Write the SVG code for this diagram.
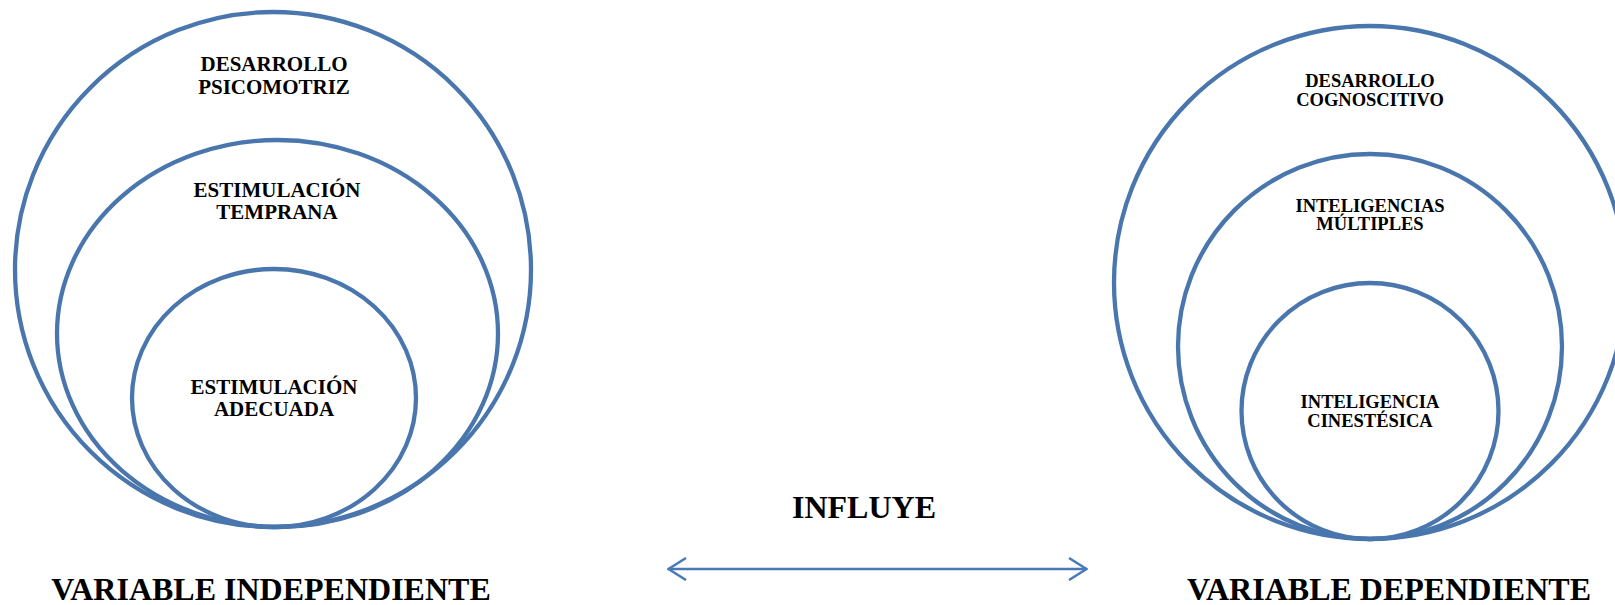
<svg xmlns="http://www.w3.org/2000/svg" width="1615" height="605" viewBox="0 0 1615 605">
<style>
.ring{fill:none;stroke:#4A76AE;stroke-width:4.3}
.t{font-family:"Liberation Serif","Times New Roman",serif;font-weight:bold;fill:#000;text-anchor:middle}
.l{font-size:21px}
.r{font-size:18.5px}
.big{font-size:32px}
.conn{fill:none;stroke:#4A7AB6;stroke-width:2.5}
</style>
<defs>
<marker id="chev" viewBox="0 0 20 24" refX="19" refY="12" markerWidth="20" markerHeight="24" markerUnits="userSpaceOnUse" orient="auto-start-reverse">
<path d="M1,1 L18.5,12 L1,23" fill="none" stroke="#4A7AB6" stroke-width="2.5"/>
</marker>
</defs>
<rect width="1615" height="605" fill="#fff"/>
<g id="desarrollo-psicomotriz">
<ellipse class="ring" cx="273" cy="269.5" rx="258" ry="257.5"/>
<text class="t l" x="274" y="71">DESARROLLO</text>
<text class="t l" x="274" y="94">PSICOMOTRIZ</text>
</g>
<g id="estimulacion-temprana">
<ellipse class="ring" cx="277.5" cy="333.5" rx="220.5" ry="193.5"/>
<text class="t l" x="277" y="197">ESTIMULACIÓN</text>
<text class="t l" x="277" y="219">TEMPRANA</text>
</g>
<g id="estimulacion-adecuada">
<ellipse class="ring" cx="274" cy="398" rx="142" ry="129"/>
<text class="t l" x="274" y="394">ESTIMULACIÓN</text>
<text class="t l" x="274" y="416">ADECUADA</text>
</g>
<g id="desarrollo-cognoscitivo">
<ellipse class="ring" cx="1370" cy="282.5" rx="256" ry="256.5"/>
<text class="t r" x="1370" y="87">DESARROLLO</text>
<text class="t r" x="1370" y="106">COGNOSCITIVO</text>
</g>
<g id="inteligencias-multiples">
<ellipse class="ring" cx="1370" cy="346.5" rx="192" ry="192.5"/>
<text class="t r" x="1370" y="212">INTELIGENCIAS</text>
<text class="t r" x="1370" y="230">MÚLTIPLES</text>
</g>
<g id="inteligencia-cinestesica">
<ellipse class="ring" cx="1370" cy="411" rx="128.5" ry="128"/>
<text class="t r" x="1370" y="408">INTELIGENCIA</text>
<text class="t r" x="1370" y="427">CINESTÉSICA</text>
</g>
<g id="labels">
<text class="t big" x="271" y="600">VARIABLE INDEPENDIENTE</text>
<text class="t big" x="1389" y="600">VARIABLE DEPENDIENTE</text>
<text class="t big" x="864" y="518">INFLUYE</text>
</g>
<g id="connectors">
<line class="conn" x1="668" y1="569" x2="1087" y2="569" marker-start="url(#chev)" marker-end="url(#chev)"/>
</g>
</svg>
